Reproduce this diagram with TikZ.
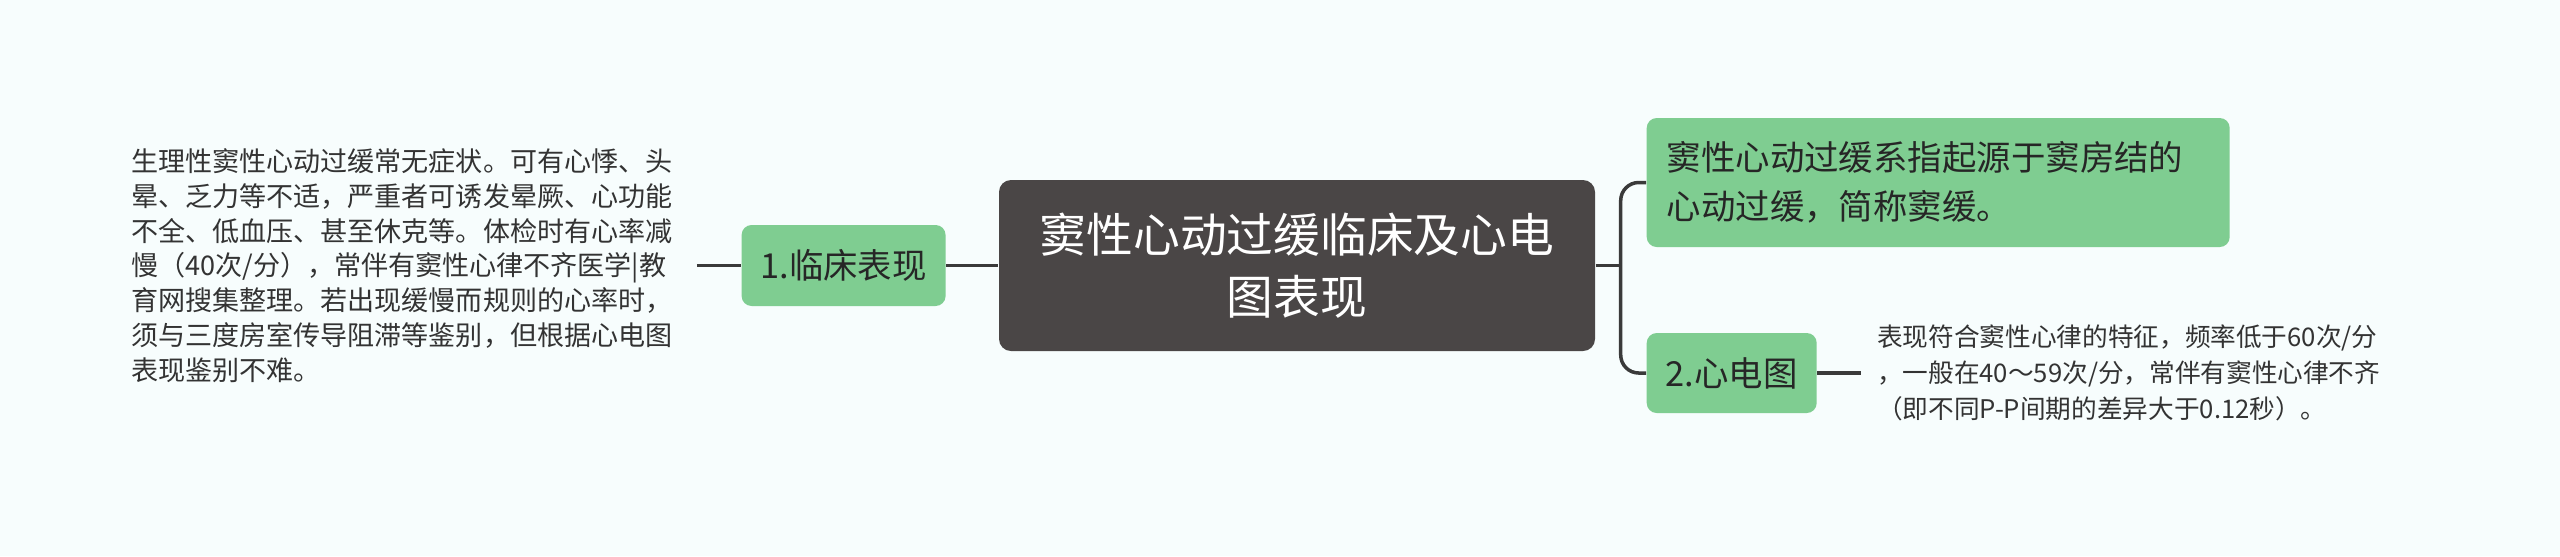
\documentclass[tikz,border=0pt]{standalone}
\usepackage{fontspec}
\setmainfont{Noto Sans CJK SC}
\usepackage{tikz}
\usetikzlibrary{positioning}
\definecolor{leafgreen}{HTML}{7FCD91}
\definecolor{rootgray}{HTML}{4A4646}
\definecolor{linegray}{HTML}{3A3A3A}
\definecolor{paper}{HTML}{F7FDFD}

\begin{document}
\begin{tikzpicture}[
    rootnode/.style={rectangle, rounded corners=0.12cm, fill=rootgray, text=white, minimum width=5.96cm, minimum height=1.71cm, align=center, font=\fontsize{13.3pt}{17.6pt}\selectfont},
    topicnode/.style={rectangle, rounded corners=0.1cm, fill=leafgreen, text=black!85, font=\fontsize{9.8pt}{13.9pt}\selectfont},
    notenode/.style={align=left, text=black!80, inner ysep=0pt, inner xsep=0.15cm},
    link/.style={draw=linegray, line width=0.035cm}
]
\useasboundingbox[fill=paper] (0,0) rectangle (25.6,-5.56);

\node[rootnode](root) at (12.97,-2.655){窦性心动过缓临床及心电\\图表现};
\node[topicnode, minimum width=2.04cm, minimum height=0.81cm](clin)[left = 0.52cm of root]{1.临床表现};
\node[notenode, text width=5.5cm, font=\fontsize{7.7pt}{9.9pt}\selectfont](clintext)[left = 0.44cm of clin]{生理性窦性心动过缓常无症状。可有心悸、头\\晕、乏力等不适，严重者可诱发晕厥、心功能\\不全、低血压、甚至休克等。体检时有心率减\\慢（40次/分），常伴有窦性心律不齐医学|教\\育网搜集整理。若出现缓慢而规则的心率时，\\须与三度房室传导阻滞等鉴别，但根据心电图\\表现鉴别不难。};

\node[topicnode, anchor=west, minimum height=1.29cm, text width=5.43cm, align=left, inner xsep=0.2cm](def) at (16.46,-1.825){窦性心动过缓系指起源于窦房结的\\心动过缓，简称窦缓。};
\node[topicnode, anchor=west, minimum width=1.70cm, minimum height=0.80cm](ecg) at (16.46,-3.73){2.心电图};
\node[notenode, text width=5.6cm, font=\fontsize{7.3pt}{10.24pt}\selectfont](ecgtext)[right = 0.44cm of ecg]{表现符合窦性心律的特征，频率低于60次/分\\，一般在40～59次/分，常伴有窦性心律不齐\\（即不同P-P间期的差异大于0.12秒）。};

\coordinate (fork) at ([xshift=0.25cm]root.east);

\draw[link] (clintext.east) -- (clin.west);
\draw[link] (clin.east) -- (root.west);
\draw[link] (root.east) -- (fork);
\draw[link, rounded corners=0.18cm] (def.west) -| (fork) |- (ecg.west);
\draw[link] (ecg.east) -- (ecgtext.west);
\end{tikzpicture}
\end{document}
